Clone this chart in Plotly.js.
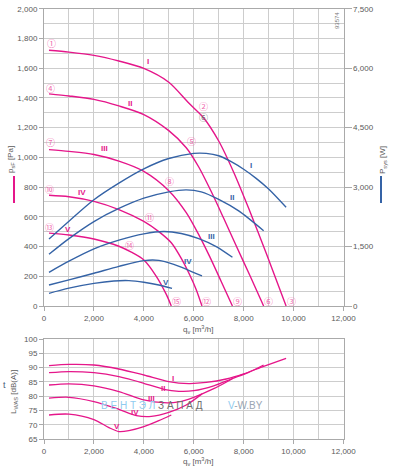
<!DOCTYPE html>
<html><head><meta charset="utf-8">
<script src="https://cdn.plot.ly/plotly-3.0.1.min.js"></script>
<style>html,body{margin:0;padding:0;background:#fff}#chart{width:393px;height:468px}</style>
</head><body><div id="chart"></div>
<script>
// ---- pressure curves p_sF [Pa] vs q_v [m3/h]
const qP1 = [200,1000,2000,3000,4000,5000,5800,6400,7000,7600,8200,8900,9700];
const pP1 = [1720,1708,1686,1648,1598,1505,1365,1265,1110,900,657,357,0];
const qP2 = [200,1000,2000,3000,4000,5000,5700,6200,6700,7200,7700,8250,8800];
const pP2 = [1427,1413,1390,1346,1288,1180,1065,935,770,590,405,205,0];
const qP3 = [200,1000,2000,3000,4000,5000,5700,6240,6640,7100,7550];
const pP3 = [1052,1040,1019,975,906,776,628,467,332,165,0];
const qP4 = [200,1000,2000,3000,4000,4600,5100,5500,5850,6100,6330];
const pP4 = [745,735,704,649,569,500,425,320,205,110,0];
const qP5 = [200,1000,2000,3000,3500,4000,4500,4900,5100];
const pP5 = [490,478,451,402,362,310,200,78,0];
// ---- system power P_sys [W]
const qW1 = [200,1000,2000,3000,4000,5000,6000,6500,7000,7500,8000,8500,9000,9700];
const wW1 = [1690,2140,2680,3100,3460,3720,3850,3850,3790,3640,3450,3220,2950,2490];
const qW2 = [200,1000,2000,3000,4000,5000,5700,6300,7000,7800,8800];
const wW2 = [1305,1700,2130,2460,2720,2880,2930,2880,2690,2400,1900];
const qW3 = [200,1000,2000,3000,4000,4800,5500,6200,6900,7550];
const wW3 = [850,1130,1440,1660,1820,1880,1830,1700,1500,1230];
const qW4 = [200,1000,2000,3000,4000,4600,5200,5800,6330];
const wW4 = [530,660,825,1000,1145,1150,1050,900,760];
const qW5 = [200,1000,2000,2800,3400,4000,4600,5130];
const wW5 = [320,450,570,630,640,600,530,445];
// ---- sound power L_WAS [dB(A)]
const qL1 = [200,1000,2000,3000,4000,5000,5800,6500,7300,8000,8800,9700];
const dL1 = [90.7,91.1,90.9,89.5,87.4,85.1,84.4,84.8,86.0,87.8,90.4,93.2];
const qL2 = [200,1000,2000,3000,4000,4800,5400,6000,6800,7500,8200,8800];
const dL2 = [88.2,88.6,88.2,86.8,84.5,82.4,81.7,81.9,83.6,86.0,88.3,90.9];
const qL3 = [200,1000,2000,3000,4000,4800,5400,6000,6800,7550];
const dL3 = [83.9,84.3,83.6,81.6,78.7,77.7,78.0,79.6,82.6,86.1];
const qL4 = [200,1000,2000,3000,3700,4300,5000,5700,6330];
const dL4 = [79.3,79.6,78.1,75.4,73.2,72.9,74.3,76.9,80.8];
const qL5 = [200,1000,2000,2600,3000,3400,4000,4600,5100];
const dL5 = [73.4,73.7,71.8,69.0,67.6,67.9,69.3,71.4,73.4];
// ---- labels
const roman = ['I','II','III','IV','V'];
const pLabQ = [4180,3445,2440,1535,975];
const pLabP = [1643,1362,1058,766,517];
const wLabQ = [8290,7520,6720,5757,4888];
const wLabP = [944,730,467,299,157];
const lLabQ = [5180,4755,4315,3645,2937];
const lLabD = [86.2,82.7,79.2,74.2,69.3];
const ptText = ['①','④','⑦','⑩','⑬','②','⑤','⑧','⑪','⑭','③','⑥','⑨','⑫','⑮','⑥'];
const ptQ = [320,280,280,240,240,6380,5890,5010,4210,3445,9920,8990,7760,6520,5290,6380];
const ptP = [1765,1463,1097,787,528,1344,1108,838,593,406,27,29,29,29,27,1270];
const xTicks = [0,2000,4000,6000,8000,10000,12000];

const MAG='#e5168a', BLUE='#3563a6', GRID='#cdcdcd', TXT='#5a5a5a';
const W=393,H=468;
const px=x=>x/W, py=y=>1-y/H;

const traces=[];
const P=[[qP1,pP1],[qP2,pP2],[qP3,pP3],[qP4,pP4],[qP5,pP5]];
const Wt=[[qW1,wW1],[qW2,wW2],[qW3,wW3],[qW4,wW4],[qW5,wW5]];
const L=[[qL1,dL1],[qL2,dL2],[qL3,dL3],[qL4,dL4],[qL5,dL5]];
P.forEach(d=>traces.push({x:d[0],y:d[1],xaxis:'x',yaxis:'y',mode:'lines',line:{color:MAG,width:1.4,shape:'spline',smoothing:0.8},hoverinfo:'skip'}));
Wt.forEach(d=>traces.push({x:d[0],y:d[1],xaxis:'x',yaxis:'y2',mode:'lines',line:{color:BLUE,width:1.4,shape:'spline',smoothing:0.8},hoverinfo:'skip'}));
L.forEach(d=>traces.push({x:d[0],y:d[1],xaxis:'x2',yaxis:'y3',mode:'lines',line:{color:MAG,width:1.3,shape:'spline',smoothing:0.8},hoverinfo:'skip'}));

const ann=[];
const C={xanchor:'center',yanchor:'middle',showarrow:false};
roman.forEach((r,i)=>{
  ann.push(Object.assign({x:pLabQ[i],y:pLabP[i],xref:'x',yref:'y',text:r,font:{family:'Liberation Sans',size:8,color:MAG,weight:'bold'}},C));
  ann.push(Object.assign({x:wLabQ[i],y:wLabP[i],xref:'x',yref:'y',text:r,font:{family:'Liberation Sans',size:8,color:BLUE,weight:'bold'}},C));
  ann.push(Object.assign({x:lLabQ[i],y:lLabD[i],xref:'x2',yref:'y3',text:r,font:{family:'Liberation Sans',size:8,color:MAG,weight:'bold'}},C));
});
ptText.forEach((t,i)=>{
  ann.push(Object.assign({x:ptQ[i],y:ptP[i],xref:'x',yref:'y',text:t,font:{family:'Noto Sans CJK SC',size:9,color:i===15?'#6e6e6e':'#ef6aae'}},C));
});
const F={family:'Liberation Sans',size:8,color:TXT};
function pa(x,y,text,extra){ann.push(Object.assign({x:px(x),y:py(y),xref:'paper',yref:'paper',text:text},C,extra||{}));}
pa(11,160,'p<sub>sF</sub> [Pa]',{textangle:-90,font:F});
pa(383,160,'P<sub>sys</sub> [W]',{textangle:-90,font:F});
pa(14,392,'L<sub>WAS</sub> [dB(A)]',{textangle:-90,font:F});
pa(198,329,'q<sub>v</sub> [m<sup>3</sup>/h]',{font:F});
pa(198,461,'q<sub>v</sub> [m<sup>3</sup>/h]',{font:F});
pa(337,21,'93574',{textangle:-90,font:{family:'Liberation Sans',size:6,color:'#777'}});
pa(4,385,'t',{font:{family:'Liberation Sans',size:9,color:'#4a5a7a'}});
pa(152,405,'<span style="color:#8fcbef">В Е Н Т Э Л </span><span style="color:#6f6f6f">З А П А Д</span>',{font:{family:'Liberation Sans',size:10}});
pa(245,405,'<span style="color:#8fcbef">V</span><span style="color:#9aa6b4">-W.BY</span>',{font:{family:'Liberation Sans',size:10}});

const xdom=[px(44),px(343.5)];
const common={showgrid:true,gridcolor:GRID,gridwidth:1,showline:true,linecolor:'#aaa',linewidth:1,ticks:'outside',ticklen:4,tickcolor:'#aaa',tickfont:F,zeroline:false,fixedrange:true};
const layout={
  width:W,height:H,margin:{l:0,r:0,t:0,b:0},paper_bgcolor:'#fff',plot_bgcolor:'#fff',showlegend:false,
  separators:'.,',
  xaxis:Object.assign({},common,{domain:xdom,anchor:'y',range:[0,12000],tickvals:xTicks,tickformat:',d',minor:{dtick:1000,tick0:0,showgrid:true,gridcolor:GRID,gridwidth:1},mirror:true}),
  yaxis:Object.assign({},common,{domain:[py(306),py(8.7)],anchor:'x',range:[0,2000],dtick:200,tickformat:',d',minor:{dtick:100,tick0:0,showgrid:true,gridcolor:GRID,gridwidth:1}}),
  yaxis2:Object.assign({},common,{overlaying:'y',side:'right',anchor:'x',range:[0,7500],dtick:1500,tickformat:',d',showgrid:false,ticklen:7}),
  xaxis2:Object.assign({},common,{domain:xdom,anchor:'y3',range:[0,12000],tickvals:xTicks,tickformat:',d',minor:{dtick:1000,tick0:0,showgrid:true,gridcolor:GRID,gridwidth:1},mirror:true}),
  yaxis3:Object.assign({},common,{domain:[py(439),py(339)],anchor:'x2',range:[65,100],dtick:5,mirror:true}),
  annotations:ann,
  shapes:[
    {type:'line',xref:'paper',yref:'paper',x0:px(14),x1:px(14),y0:py(176),y1:py(203),line:{color:MAG,width:2}},
    {type:'line',xref:'paper',yref:'paper',x0:px(381),x1:px(381),y0:py(176),y1:py(203),line:{color:BLUE,width:2}}
  ]
};
Plotly.newPlot('chart',traces,layout,{staticPlot:true,displayModeBar:false});
</script></body></html>
